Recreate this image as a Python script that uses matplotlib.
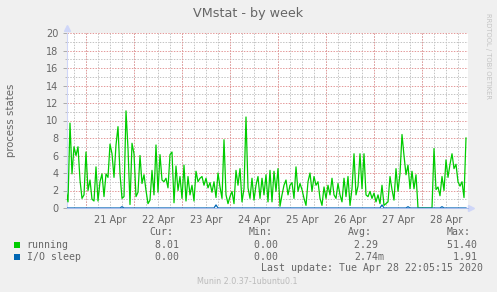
import numpy as np
import pandas as pd
import matplotlib
matplotlib.use('Agg')
from matplotlib import pyplot as plt
from matplotlib.patches import Rectangle

# hourly samples, starting 2020-04-20 14:00
running = [
    2.0, 0.7, 9.7, 3.9, 7.0, 6.0, 7.0, 3.2, 1.1, 1.5,
    6.4, 2.0, 3.2, 1.0, 0.8, 4.7, 0.8, 3.0, 3.9, 1.3,
    3.9, 3.5, 7.3, 6.2, 3.5, 7.2, 9.3, 3.9, 1.1, 1.3,
    11.1, 6.8, 0.4, 7.4, 6.2, 1.3, 1.8, 6.0, 2.8, 3.8,
    2.0, 0.5, 0.9, 4.3, 1.5, 7.2, 1.8, 6.1, 3.2, 3.0,
    3.4, 2.3, 6.1, 6.4, 0.6, 4.8, 2.0, 3.6, 1.1, 4.9,
    0.8, 3.6, 1.5, 2.6, 0.8, 4.2, 3.0, 3.4, 3.6, 2.6,
    3.4, 2.3, 2.9, 1.8, 3.0, 1.2, 4.0, 2.4, 1.1, 7.8,
    1.5, 0.5, 1.3, 1.9, 0.5, 4.3, 2.6, 4.5, 0.7, 2.2,
    10.4, 2.3, 1.1, 3.4, 0.9, 2.6, 3.6, 1.1, 3.4, 1.5,
    3.8, 0.7, 4.3, 0.7, 4.2, 1.9, 4.5, 0.2, 1.5, 2.6,
    3.2, 1.5, 2.6, 2.9, 1.1, 4.7, 1.9, 2.8, 2.1, 1.1,
    0.3, 3.0, 4.0, 1.9, 3.6, 2.6, 3.0, 1.1, 0.3, 2.4,
    1.1, 2.6, 1.5, 3.4, 1.5, 1.1, 2.8, 1.5, 0.7, 3.4,
    1.3, 3.6, 0.3, 2.2, 6.2, 1.5, 2.5, 6.2, 2.2, 6.2,
    1.5, 1.3, 1.9, 1.1, 1.7, 0.7, 1.5, 0.5, 2.6, 0.3,
    0.5, 0.7, 3.6, 2.1, 0.9, 4.5, 1.9, 3.9, 8.4, 6.0,
    3.8, 4.9, 2.2, 4.2, 2.2, 3.8, 0.0, 0.0, 0.0, 0.0,
    0.0, 0.0, 0.0, 0.0, 6.8, 2.1, 2.4, 1.4, 3.6, 2.0,
    5.5, 3.5, 5.0, 6.2, 4.5, 5.0, 3.0, 2.5, 3.0, 1.2,
    8.0,
]
# I/O sleep is zero except for a few small blips (hour index -> value)
io_blips = {28: 0.15, 75: 0.35, 158: 0.35, 171: 0.15, 188: 0.15}

legend_names = ['running', 'I/O sleep']
legend_colors = ['#00cc00', '#0066b3']
cur_vals = ['8.01', '0.00']
min_vals = ['0.00', '0.00']
avg_vals = ['2.29 ', '2.74m']
max_vals = ['51.40', '1.91']

start = pd.Timestamp('2020-04-20 14:00')
hours = pd.date_range(start, periods=len(running), freq='h')
io_sleep = np.zeros(len(running))
for k, v in io_blips.items():
    io_sleep[k] = v

W, H = 497, 292
FONT = '#666666'
MONO = 'DejaVu Sans Mono'


def px(x, y):
    return x / W, 1 - y / H


fig = plt.figure(figsize=(W / 100, H / 100), dpi=100, facecolor='#f0f0f0')
ax = fig.add_axes([67 / W, (H - 208) / H, 401 / W, 175 / H])
ax.set_facecolor('white')

ax.plot(hours, running, color='#00cc00', lw=0.9, zorder=3)
ax.plot(hours, io_sleep, color='#0066b3', lw=0.9, zorder=4)

ax.set_xlim(start + pd.Timedelta(minutes=30), start + pd.Timedelta(hours=201))
ax.set_ylim(0, 20)

midnights = pd.date_range('2020-04-21', '2020-04-28', freq='D')
noons = midnights + pd.Timedelta(hours=12)
six_h = pd.date_range('2020-04-20 18:00', '2020-04-28 18:00', freq='6h')

ax.set_xticks(noons)
ax.set_xticklabels([d.strftime('%d Apr') for d in noons])
ax.set_xticks(six_h, minor=True)
ax.xaxis.remove_overlapping_locs = False
ax.set_yticks(np.arange(0, 21, 2))
ax.set_yticks(np.arange(1, 20, 2), minor=True)

dot = (0, (1.4, 1.4))
ax.set_axisbelow(True)
ax.grid(axis='y', which='major', color='#e49a9a', linestyle=dot, lw=0.72)
ax.grid(axis='y', which='minor', color='#c4c4c4', linestyle=dot, lw=0.72)
ax.grid(axis='x', which='minor', color='#c4c4c4', linestyle=dot, lw=0.72)
for d in midnights:
    ax.axvline(d, color='#e49a9a', linestyle=dot, lw=0.72, zorder=1)

ax.tick_params(axis='x', which='major', length=0, pad=5, labelsize=7, labelcolor=FONT)
ax.tick_params(axis='x', which='minor', length=0)
ax.tick_params(axis='y', which='major', length=3, width=0.7, color='#aaaaaa',
               pad=3, labelsize=7, labelcolor=FONT)
ax.tick_params(axis='y', which='minor', length=1.5, width=0.7, color='#bbbbbb')

for s in ['top', 'right']:
    ax.spines[s].set_visible(False)
ax.spines['left'].set_color('#cfd6f8')
ax.spines['bottom'].set_color('#a8bcec')
ax.spines['bottom'].set_zorder(5)
ax.plot([0], [1.03], marker='^', ms=4, color='#cfd6f8', transform=ax.transAxes, clip_on=False)
ax.plot([1.008], [0], marker='>', ms=4, color='#cfd6f8', transform=ax.transAxes, clip_on=False)

fig.text(*px(248, 13), 'VMstat - by week', ha='center', va='center', fontsize=9.2, color=FONT)
fig.text(*px(11, 120.5), 'process states', ha='center', va='center', rotation=90,
         fontsize=7.3, color=FONT)
fig.text(*px(488, 56), 'RRDTOOL / TOBI OETIKER', ha='center', va='center', rotation=270,
         fontsize=4.9, color='#c4c4c4')

# legend block
fig.text(*px(149, 232.3), 'Cur:', va='center', fontsize=7.1, family=MONO, color=FONT)
fig.text(*px(249, 232.3), 'Min:', va='center', fontsize=7.1, family=MONO, color=FONT)
fig.text(*px(348, 232.3), 'Avg:', va='center', fontsize=7.1, family=MONO, color=FONT)
fig.text(*px(447, 232.3), 'Max:', va='center', fontsize=7.1, family=MONO, color=FONT)
rows_y = [245, 256.7]
for i, y in enumerate(rows_y):
    fig.add_artist(Rectangle(px(14, y + 3), 6 / W, 6 / H, transform=fig.transFigure,
                             facecolor=legend_colors[i], edgecolor='none'))
    fig.text(*px(26.7, y), legend_names[i], va='center', fontsize=7.1, family=MONO, color=FONT)
    fig.text(*px(185, y), cur_vals[i] + ' ', ha='right', va='center', fontsize=7.1,
             family=MONO, color=FONT)
    fig.text(*px(284, y), min_vals[i] + ' ', ha='right', va='center', fontsize=7.1,
             family=MONO, color=FONT)
    fig.text(*px(384, y), avg_vals[i], ha='right', va='center', fontsize=7.1,
             family=MONO, color=FONT)
    fig.text(*px(483, y), max_vals[i] + ' ', ha='right', va='center', fontsize=7.1,
             family=MONO, color=FONT)
fig.text(*px(483, 268.3), 'Last update: Tue Apr 28 22:05:15 2020', ha='right', va='center',
         fontsize=7.1, family=MONO, color=FONT)
fig.text(*px(247.5, 281.7), 'Munin 2.0.37-1ubuntu0.1', ha='center', va='center',
         fontsize=5.8, color='#bbbbbb')

fig.savefig('out.png', dpi=100, facecolor='#f0f0f0')
